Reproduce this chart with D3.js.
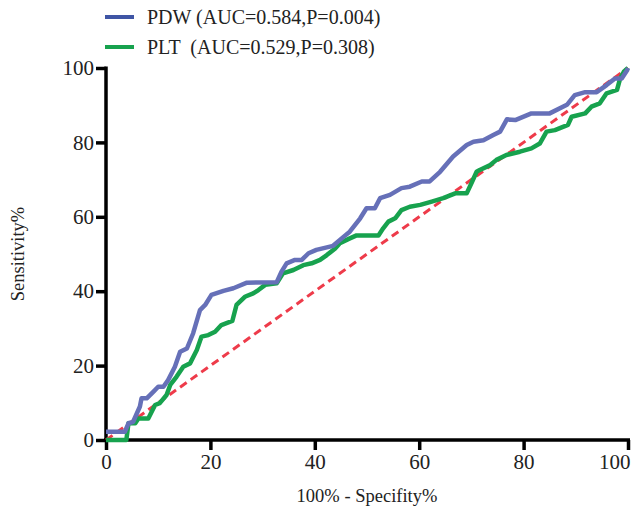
<!DOCTYPE html>
<html>
<head>
<meta charset="utf-8">
<script src="https://cdn.jsdelivr.net/npm/d3@7"></script>
<style>
  body { margin: 0; background: #fff; }
  svg text { font-family: "Liberation Serif", "DejaVu Serif", serif !important; }
</style>
</head>
<body>
<div id="chart"></div>
<script>
// ROC points: [100% - specificity, sensitivity]
const pdwPoints = [
  [0, 2.2], [3.6, 2.2], [4.3, 4.5], [5.2, 4.9], [6.5, 9], [6.8, 11.2], [7.8, 11.2],
  [9.1, 13], [10, 14.3], [11, 14.3], [11.9, 16.1], [13.2, 19.7], [14.2, 23.7],
  [15.5, 24.6], [16.7, 28.7], [18, 34.9], [19, 36.3], [20.2, 39], [22.5, 40.1],
  [24.4, 40.8], [27, 42.3], [32.7, 42.4], [33.6, 45.2], [34.6, 47.5], [36.2, 48.4],
  [37.5, 48.4], [38.8, 50.2], [40.3, 51.1], [43.5, 52.2], [45.5, 54.6], [46.7, 56],
  [48.7, 59.6], [49.9, 62.3], [51.5, 62.3], [52.5, 65], [54.4, 65.9], [56.6, 67.7],
  [58.2, 68.1], [60.5, 69.5], [62, 69.5], [64, 72.1], [66.5, 76.2], [69.1, 79.3],
  [70.4, 80.2], [72.3, 80.6], [74.2, 82], [75.5, 82.9], [76.8, 86.2], [78.4, 86],
  [81.5, 87.8], [85, 87.8], [88.3, 90.1], [89.8, 92.7], [91.8, 93.5], [94, 93.5],
  [95.9, 95.4], [97.5, 97.2], [98.8, 97.2], [99.8, 99.3], [100, 100]
];
const pltPoints = [
  [0, 0], [3.9, 0], [4.3, 4.5], [5.6, 4.5], [6.2, 5.8], [8.1, 5.8], [9.4, 9.4],
  [10.3, 9.9], [11.6, 12.1], [12.3, 14.8], [13.5, 17], [14.8, 19.7], [16.1, 20.6],
  [17.4, 24.2], [18.3, 27.8], [19.6, 28.2], [20.9, 29.1], [22.1, 30.9], [24.2, 32],
  [25, 36.3], [26.6, 38.5], [28.2, 39.4], [29.2, 40.3], [30.5, 41.7], [32.7, 42.1],
  [33.9, 44.8], [35.9, 45.7], [37.8, 47], [39.4, 47.5], [41, 48.4], [42.3, 49.7],
  [43.9, 51.5], [44.8, 52.9], [46.4, 54], [48, 55], [52.2, 55], [53.1, 56.9],
  [54.1, 58.7], [55.4, 59.6], [56.6, 61.8], [58.2, 62.7], [60.2, 63.2], [62.4, 64.1],
  [64.6, 65], [66.9, 66.3], [69.1, 66.3], [70, 69], [71, 72.1], [71.6, 72.6],
  [73.6, 73.9], [74.8, 75.3], [76.7, 76.6], [79.3, 77.5], [81.5, 78.4], [83.1, 79.7],
  [84.4, 82.9], [86, 83.3], [88.5, 84.7], [89.2, 86.9], [91.8, 87.8], [93, 89.6],
  [94.6, 90.5], [95.9, 93.2], [97.9, 94.1], [98.5, 97.2], [99.2, 99], [100, 100]
];
const refLine = [[0, 0], [100, 100]];
const xTicks = [0, 20, 40, 60, 80, 100];
const yTicks = [0, 20, 40, 60, 80, 100];
const legendLabels = ["PDW (AUC=0.584,P=0.004)", "PLT  (AUC=0.529,P=0.308)"];

const width = 631, height = 509;
const margin = { t: 68, r: 3, b: 69, l: 106 };

const svg = d3.select("#chart").append("svg").attr("width", width).attr("height", height);

const x = d3.scaleLinear().domain([0, 100]).range([margin.l, width - margin.r]);
const y = d3.scaleLinear().domain([0, 100]).range([height - margin.b, margin.t]);

// axes
const xAxis = svg.append("g")
  .attr("transform", `translate(0, ${y(0)})`)
  .call(d3.axisBottom(x).tickValues(xTicks).tickSize(10).tickPadding(4).tickSizeOuter(0));
const yAxis = svg.append("g")
  .attr("transform", `translate(${x(0)}, 0)`)
  .call(d3.axisLeft(y).tickValues(yTicks).tickSize(10).tickPadding(3).tickSizeOuter(0));

[xAxis, yAxis].forEach((g) => {
  g.select(".domain").attr("stroke", "#000").attr("stroke-width", 3.5);
  g.selectAll(".tick line").attr("stroke", "#000").attr("stroke-width", 3.5);
  g.selectAll("text").attr("font-size", 21).attr("fill", "#222");
});
xAxis.select(".domain").attr("d", `M${x(0) - 2},0H${x(100) + 2}`);
yAxis.select(".domain").attr("d", `M0,${y(0)}V${y(100) - 1.5}`);
yAxis.selectAll(".tick text").attr("x", -12);
// last x label sits against the right edge, as in the original
xAxis.selectAll(".tick text").filter((d) => d === 100).attr("text-anchor", "end").attr("dx", 2);

const line = d3.line().x((d) => x(d[0])).y((d) => y(d[1]));

svg.append("path")
  .datum(refLine)
  .attr("d", line)
  .attr("fill", "none")
  .attr("stroke", "#ee3b4a")
  .attr("stroke-width", 3)
  .attr("stroke-dasharray", "8,5");

svg.append("path")
  .datum(pltPoints)
  .attr("d", line)
  .attr("fill", "none")
  .attr("stroke", "#17a24e")
  .attr("stroke-width", 4.5)
  .attr("stroke-linejoin", "round");

svg.append("path")
  .datum(pdwPoints)
  .attr("d", line)
  .attr("fill", "none")
  .attr("stroke", "#6670b8")
  .attr("stroke-width", 4.5)
  .attr("stroke-linejoin", "round");

// axis titles
svg.append("text")
  .attr("x", (x(0) + x(100)) / 2)
  .attr("y", 502)
  .attr("text-anchor", "middle")
  .attr("font-size", 18.5)
  .attr("fill", "#222")
  .text("100% - Specifity%");

svg.append("text")
  .attr("transform", `translate(24, ${(y(0) + y(100)) / 2}) rotate(-90)`)
  .attr("text-anchor", "middle")
  .attr("font-size", 18.5)
  .attr("fill", "#222")
  .text("Sensitivity%");

// legend
const legendColors = ["#3f55a5", "#17a24e"];
const legend = svg.selectAll(".legend")
  .data(legendLabels)
  .enter()
  .append("g")
  .attr("class", "legend")
  .attr("transform", (d, i) => `translate(105, ${17 + i * 30})`);
legend.append("line")
  .attr("x1", 0).attr("x2", 29)
  .attr("stroke", (d, i) => legendColors[i])
  .attr("stroke-width", 4);
legend.append("text")
  .attr("x", 42)
  .attr("y", 7)
  .attr("font-size", 20)
  .attr("fill", "#222")
  .style("white-space", "pre")
  .text((d) => d);
</script>
</body>
</html>
